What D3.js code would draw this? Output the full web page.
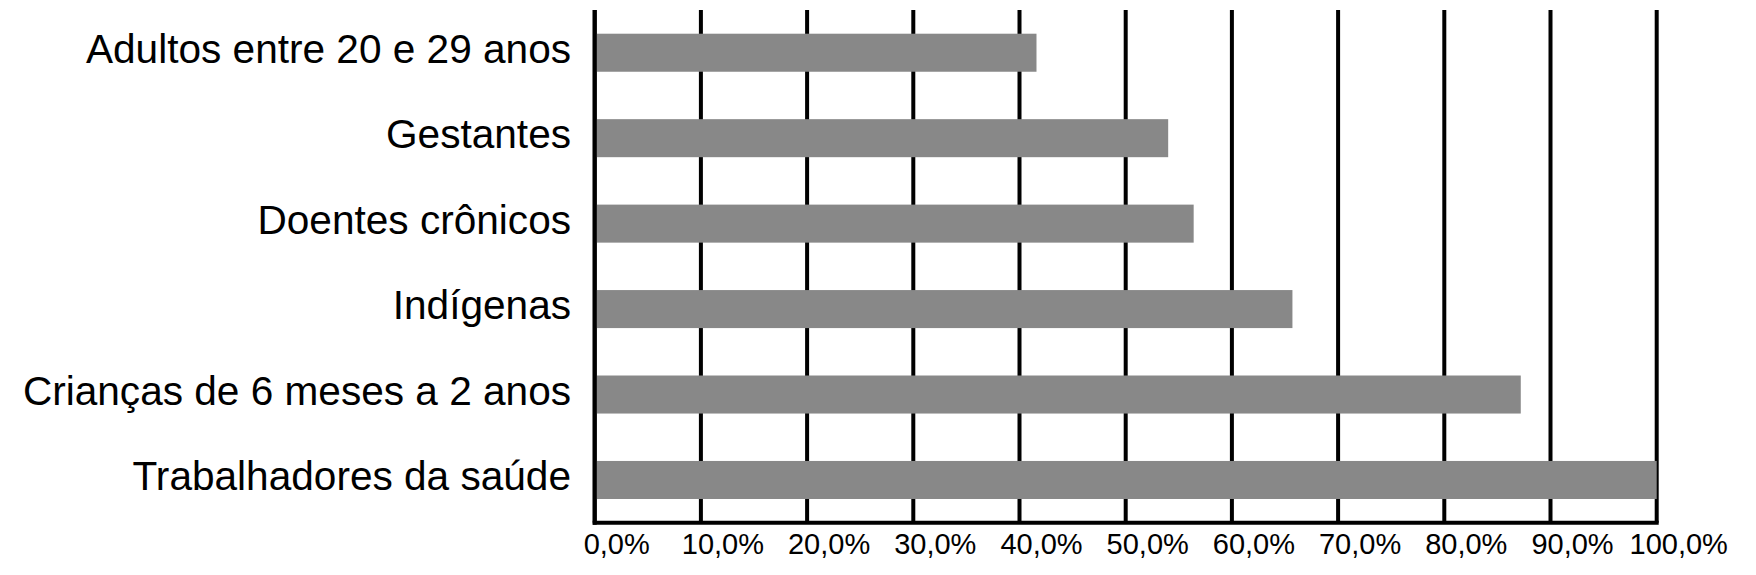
<!DOCTYPE html>
<html>
<head>
<meta charset="utf-8">
<script src="https://cdn.jsdelivr.net/npm/d3@7"></script>
<style>
  html, body { margin: 0; padding: 0; background: #fff; }
  svg { display: block; }
  text { font-family: "Liberation Sans", Arial, sans-serif; fill: #000; }
</style>
</head>
<body>
<svg id="chart" width="1756" height="575"></svg>
<script>
const categories = [
  "Adultos entre 20 e 29 anos",
  "Gestantes",
  "Doentes crônicos",
  "Indígenas",
  "Crianças de 6 meses a 2 anos",
  "Trabalhadores da saúde"
];
const values = [41.6, 54.0, 56.4, 65.7, 87.2, 100.0];
const tickValues = [0, 10, 20, 30, 40, 50, 60, 70, 80, 90, 100];
const tickLabels = ["0,0%", "10,0%", "20,0%", "30,0%", "40,0%", "50,0%", "60,0%", "70,0%", "80,0%", "90,0%", "100,0%"];

(function () {
const svg = d3.select("#chart");
const plotLeft = 594.7, plotRight = 1656.7, plotTop = 10, plotBottom = 522.7;

const x = d3.scaleLinear().domain([0, 100]).range([plotLeft, plotRight]);
const y = d3.scaleBand().domain(categories).range([plotTop, plotBottom]).paddingInner(0.555).paddingOuter(0.2775);

// vertical gridlines
svg.append("g")
  .selectAll("line")
  .data(tickValues)
  .join("line")
  .attr("x1", d => x(d)).attr("x2", d => x(d))
  .attr("y1", plotTop).attr("y2", plotBottom)
  .attr("stroke", "#000")
  .attr("stroke-width", 4);

// bars
svg.append("g")
  .selectAll("rect")
  .data(categories)
  .join("rect")
  .attr("x", x(0) + 2)
  .attr("y", d => y(d))
  .attr("width", (d, i) => x(values[i]) - x(0) - 2)
  .attr("height", y.bandwidth())
  .attr("fill", "#888888");

// left axis line
svg.append("line")
  .attr("x1", x(0)).attr("x2", x(0))
  .attr("y1", plotTop).attr("y2", plotBottom + 2)
  .attr("stroke", "#000").attr("stroke-width", 4);

// bottom axis line
svg.append("line")
  .attr("x1", x(0) - 2).attr("x2", x(100) + 2)
  .attr("y1", plotBottom).attr("y2", plotBottom)
  .attr("stroke", "#000").attr("stroke-width", 4);

// category labels
svg.append("g")
  .selectAll("text")
  .data(categories)
  .join("text")
  .attr("x", 571)
  .attr("y", d => y(d) + y.bandwidth() / 2)
  .attr("dy", "0.25em")
  .attr("text-anchor", "end")
  .style("font-size", "40.6px")
  .text(d => d);

// tick labels
svg.append("g")
  .selectAll("text")
  .data(tickValues)
  .join("text")
  .attr("x", d => x(d) + 22)
  .attr("y", 553.5)
  .attr("text-anchor", "middle")
  .style("font-size", "29px")
  .text((d, i) => tickLabels[i]);
})();
</script>
</body>
</html>
